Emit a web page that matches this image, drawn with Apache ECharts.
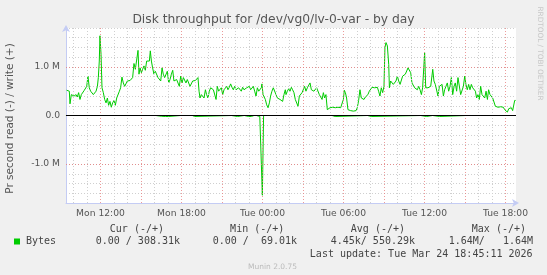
<!DOCTYPE html>
<html><head><meta charset="utf-8">
<script src="https://cdn.jsdelivr.net/npm/echarts@6/dist/echarts.min.js"></script>
<style>html,body{margin:0;padding:0;background:#f0f0f0;}#c{width:547px;height:275px;}</style>
</head><body><div id="c"></div>
<script>
// Time in hours since Mon 00:00, values in MB/s (M)
const writeHours = [9.49,9.59,9.69,9.74,9.84,9.94,10.04,10.11,10.19,10.28,10.38,10.48,10.58,10.68,10.78,10.88,10.98,11.07,11.17,11.27,11.37,11.47,11.57,11.67,11.77,11.84,11.91,11.96,12.04,12.11,12.21,12.31,12.41,12.51,12.60,12.70,12.80,12.90,13.00,13.10,13.20,13.30,13.40,13.49,13.59,13.69,13.79,13.89,13.99,14.09,14.19,14.28,14.38,14.48,14.58,14.68,
14.78,14.85,14.93,15.03,15.12,15.22,15.32,15.42,15.52,15.62,15.69,15.77,15.86,15.96,16.06,16.16,16.26,16.36,16.46,16.56,16.65,16.75,16.85,16.95,17.05,17.15,17.25,17.35,17.44,17.54,17.64,17.74,17.84,17.94,18.04,18.14,18.23,18.33,18.43,18.53,18.63,18.73,18.83,18.93,19.03,19.12,19.22,19.30,19.37,19.47,19.57,19.67,19.77,19.86,19.96,20.06,20.16,
20.26,20.36,20.46,20.56,20.65,20.75,20.85,20.95,21.05,21.15,21.25,21.35,21.44,21.54,21.64,21.74,21.84,21.94,22.04,22.14,22.23,22.33,22.43,22.53,22.63,22.73,22.83,22.93,23.02,23.12,23.22,23.32,23.42,23.52,23.62,23.72,23.81,23.91,23.96,24.04,24.11,24.21,24.31,24.41,24.51,24.60,24.70,24.80,24.90,25.00,25.10,25.20,25.30,25.40,25.49,25.59,25.69,
25.74,25.84,25.94,26.04,26.14,26.23,26.33,26.43,26.53,26.63,26.73,26.83,26.93,27.02,27.12,27.22,27.32,27.42,27.52,27.62,27.72,27.81,27.91,28.01,28.11,28.21,28.31,28.41,28.51,28.60,28.70,28.80,28.90,29.00,29.10,29.20,29.30,29.40,29.49,29.59,29.69,29.79,29.89,29.99,30.06,30.14,30.23,30.33,30.43,30.53,30.63,30.73,30.83,30.93,31.02,31.12,
31.22,31.32,31.42,31.52,31.62,31.72,31.81,31.91,32.01,32.11,32.21,32.31,32.41,32.51,32.60,32.70,32.80,32.90,33.00,33.07,33.15,33.25,33.35,33.40,33.49,33.59,33.69,33.79,33.89,33.99,34.09,34.19,34.28,34.38,34.48,34.58,34.68,34.78,34.88,34.98,35.07,35.17,35.27,35.37,35.47,35.57,35.67,35.77,35.86,35.96,36.01,36.09,36.16,36.26,36.36,36.46,36.56,36.61,
36.70,36.80,36.90,37.00,37.10,37.20,37.30,37.40,37.49,37.59,37.69,37.79,37.89,37.99,38.09,38.19,38.28,38.38,38.48,38.58,38.68,38.78,38.88,38.98,39.07,39.17,39.27,39.37,39.47,39.57,39.67,39.77,39.86,39.96,40.06,40.16,40.26,40.36,40.46,40.56,40.66,40.75,40.85,40.95,41.05,41.15,41.25,41.35,41.45,41.54,41.64,41.74,41.84,41.94,42.04,42.14,42.24,42.33,42.43,42.53,42.58,42.68,42.75];
const writeM = [0.52,0.53,0.50,0.24,0.43,0.47,0.40,0.36,0.43,0.38,0.47,0.33,0.43,0.40,0.51,0.50,0.60,0.81,0.57,0.50,0.49,0.43,0.40,0.50,0.60,0.78,1.12,1.64,1.26,0.57,0.47,0.33,0.26,0.36,0.21,0.29,0.17,0.26,0.31,0.21,0.36,0.40,0.50,0.57,0.79,0.67,0.60,0.56,0.71,0.72,0.72,0.73,0.78,1.07,0.95,0.98,
1.34,0.85,0.98,0.88,0.95,1.02,0.93,1.12,1.09,1.12,1.33,1.12,0.98,0.85,0.91,0.88,0.78,0.81,0.71,0.98,0.85,0.78,0.81,0.91,0.67,0.74,0.85,0.93,0.71,0.74,0.74,0.78,0.60,0.81,0.67,0.78,0.74,0.67,0.74,0.71,0.60,0.56,0.71,0.67,0.72,0.74,0.78,0.50,0.36,0.43,0.47,0.36,0.53,0.43,0.36,0.50,0.57,
0.58,0.53,0.57,0.33,0.60,0.50,0.53,0.57,0.43,0.53,0.57,0.60,0.53,0.58,0.65,0.58,0.53,0.60,0.53,0.50,0.57,0.53,0.50,0.58,0.53,0.50,0.57,0.53,0.60,0.53,0.57,0.60,0.50,0.40,0.57,0.50,0.53,0.57,0.65,0.43,0.40,0.33,0.22,0.16,0.26,0.40,0.50,0.57,0.53,0.43,0.36,0.40,0.33,0.36,0.29,0.43,0.53,
0.43,0.50,0.55,0.50,0.58,0.53,0.47,0.33,0.36,0.19,0.40,0.36,0.47,0.50,0.60,0.50,0.57,0.53,0.67,0.53,0.57,0.50,0.53,0.57,0.58,0.43,0.47,0.33,0.47,0.36,0.43,0.12,0.14,0.16,0.13,0.17,0.14,0.16,0.12,0.17,0.13,0.16,0.12,0.33,0.52,0.47,0.36,0.12,0.14,0.10,0.13,0.09,0.12,0.10,0.16,0.31,
0.53,0.36,0.40,0.33,0.38,0.40,0.43,0.50,0.53,0.58,0.60,0.57,0.53,0.58,0.50,0.40,0.57,0.47,0.60,1.40,1.50,1.43,1.05,0.57,0.71,0.67,0.64,0.60,0.71,0.81,0.71,0.64,0.67,0.81,0.78,0.85,0.88,0.98,1.02,0.88,0.67,0.71,0.57,0.60,0.53,0.60,0.53,0.43,0.57,0.58,1.29,0.57,0.53,0.57,0.53,0.60,0.60,0.95,
0.71,0.64,0.60,0.40,0.60,0.57,0.64,0.40,0.53,0.60,0.67,0.50,0.60,0.78,0.43,0.60,0.67,0.50,0.78,0.81,0.43,0.40,0.60,0.81,0.64,0.53,0.64,0.53,0.64,0.57,0.57,0.50,0.36,0.43,0.33,0.60,0.43,0.47,0.36,0.50,0.33,0.53,0.43,0.43,0.36,0.33,0.19,0.16,0.17,0.14,0.18,0.16,0.17,0.12,0.16,0.07,0.14,0.12,0.16,0.10,0.12,0.31,0.31];
const readHours = [9.44,16.10,16.18,16.50,16.80,17.05,17.13,17.92,17.98,18.06,18.13,18.80,18.87,18.98,19.05,21.70,21.77,22.15,22.22,22.65,22.72,22.98,23.05,23.12,23.18,23.30,23.37,23.55,23.62,23.80,23.88,23.99,24.08,29.15,29.22,29.38,29.45,31.78,31.85,32.05,32.12,35.72,35.78,36.15,36.22,36.60,36.66,37.10,37.17,39.05,39.10,39.18,39.25,42.75];
const readM = [0,0,-0.02,-0.015,-0.02,-0.02,0,0,-0.02,-0.02,0,0,-0.02,-0.02,0,0,-0.02,-0.02,0,0,-0.02,-0.02,0,0,-0.02,-0.02,0,0,-0.02,-0.02,0,-1.64,0,0,-0.02,-0.02,0,0,-0.02,-0.02,0,0,-0.02,-0.02,0,0,-0.02,-0.02,0,0,-0.02,-0.02,0,0];

const startHour = 9.4444, endHour = 42.7778;
const xTickHours = [12,18,24,30,36,42];
const xTickLabels = ['Mon 12:00','Mon 18:00','Tue 00:00','Tue 06:00','Tue 12:00','Tue 18:00'];
const yTickValues = [-1,0,1];
const yTickLabels = ['-1.0 M','0.0','1.0 M'];
const legendHeaders = ['Cur (-/+)','Min (-/+)','Avg (-/+)','Max (-/+)'];
const legendValues = ['0.00 / 308.31k','0.00 /  69.01k','4.45k/ 550.29k','1.64M/   1.64M'];
const seriesName = 'Bytes';
const lastUpdate = 'Last update: Tue Mar 24 18:45:11 2026';

const GREEN = '#00cc00';
const chart = echarts.init(document.getElementById('c'), null, {renderer:'canvas'});

const vLines = [];
for (let h = Math.ceil(startHour); h <= Math.floor(endHour); h++) {
  const major = h % 3 === 0;
  vLines.push({xAxis: h, lineStyle: {color: major ? 'rgba(230,120,120,0.75)' : '#cfcfcf', type: [1,2], width: 1}});
}
const hLines = [
  {yAxis: 1, lineStyle: {color: 'rgba(230,120,120,0.75)', type: [1,2], width: 1}},
  {yAxis: -1, lineStyle: {color: 'rgba(230,120,120,0.75)', type: [1,2], width: 1}}
];

const mono = '10px "DejaVu Sans Mono"';
const graphics = [
  {type:'text', x:273.5, y:20, style:{text:'Disk throughput for /dev/vg0/lv-0-var - by day', font:'12.3px "DejaVu Sans"', fill:'#555', textAlign:'center', align:'center', textVerticalAlign:'middle', verticalAlign:'middle'}},
  {type:'text', x:10, y:118.5, rotation:Math.PI/2, style:{text:'Pr second read (-) / write (+)', font:'10.5px "DejaVu Sans"', fill:'#555', textAlign:'center', align:'center', textVerticalAlign:'middle', verticalAlign:'middle'}},
  {type:'text', x:540, y:53.5, rotation:-Math.PI/2, style:{text:'RRDTOOL / TOBI OETIKER', font:'7.3px "DejaVu Sans"', fill:'#c8c8c8', textAlign:'center', align:'center', textVerticalAlign:'middle', verticalAlign:'middle'}},
  {type:'rect', shape:{x:14, y:238.5, width:6, height:6}, style:{fill:GREEN}},
  {type:'text', x:26, y:241.5, style:{text:seriesName, font:mono, fill:'#444', textVerticalAlign:'middle', verticalAlign:'middle'}},
  {type:'text', x:532.6, y:254.5, style:{text:lastUpdate, font:mono, fill:'#444', textAlign:'right', align:'right', textVerticalAlign:'middle', verticalAlign:'middle'}},
  {type:'text', x:272.5, y:267, style:{text:'Munin 2.0.75', font:'7.5px "DejaVu Sans"', fill:'#bbb', textAlign:'center', align:'center', textVerticalAlign:'middle', verticalAlign:'middle'}}
];
const headRight = [164, 284.3, 405, 526];
const valRight = [180, 297, 415, 533];
legendHeaders.forEach((t,i)=>graphics.push({type:'text', x:headRight[i], y:229, style:{text:t, font:mono, fill:'#444', textAlign:'right', align:'right', textVerticalAlign:'middle', verticalAlign:'middle'}}));
legendValues.forEach((t,i)=>graphics.push({type:'text', x:valRight[i], y:241.5, style:{text:t, font:mono, fill:'#444', textAlign:'right', align:'right', textVerticalAlign:'middle', verticalAlign:'middle'}}));

chart.setOption({
  animation:false,
  backgroundColor:'#f0f0f0',
  grid:{left:66, top:28, width:450, height:175, show:true, backgroundColor:'#ffffff', borderWidth:0},
  xAxis:{type:'value', min:startHour, max:endHour,
    axisLine:{onZero:false, lineStyle:{color:'#c4ccf4', width:1}, symbol:['none','arrow'], symbolSize:[6,7], symbolOffset:[0,3]},
    axisTick:{show:false},
    splitLine:{show:false},
    axisLabel:{customValues:xTickHours, formatter:(v)=>{const i=xTickHours.indexOf(Math.round(v)); return i>=0?xTickLabels[i]:'';}, fontSize:9.2, fontFamily:'DejaVu Sans', color:'#555', margin:6}
  },
  yAxis:{type:'value', min:-1.8, max:1.8, interval:0.2,
    axisLine:{show:true, lineStyle:{color:'#c4ccf4', width:1}, symbol:['none','arrow'], symbolSize:[6,7], symbolOffset:[0,3]},
    axisTick:{show:false},
    splitLine:{show:true, lineStyle:{color:'#cfcfcf', type:[1,2], width:1}},
    axisLabel:{formatter:(v)=>{for(let i=0;i<yTickValues.length;i++){if(Math.abs(v-yTickValues[i])<1e-6)return yTickLabels[i];}return '';}, fontSize:9.2, fontFamily:'DejaVu Sans', color:'#555', margin:6}
  },
  graphic:graphics,
  series:[
    {type:'line', data:[], z:1, silent:true, markLine:{silent:true, symbol:'none', label:{show:false}, animation:false, data:vLines.concat(hLines)}},
    {type:'line', name:'write', z:3, data:writeHours.map((h,i)=>[h,writeM[i]]), showSymbol:false, symbol:'none', lineStyle:{color:GREEN, width:1}, silent:true},
    {type:'line', name:'read', z:3, data:readHours.map((h,i)=>[h,readM[i]]), showSymbol:false, symbol:'none', lineStyle:{color:GREEN, width:1}, silent:true},
    {type:'line', data:[], z:5, silent:true, markLine:{silent:true, symbol:'none', label:{show:false}, animation:false, data:[{yAxis:0, lineStyle:{color:'#000', type:'solid', width:1}}]}}
  ]
});
</script></body></html>
